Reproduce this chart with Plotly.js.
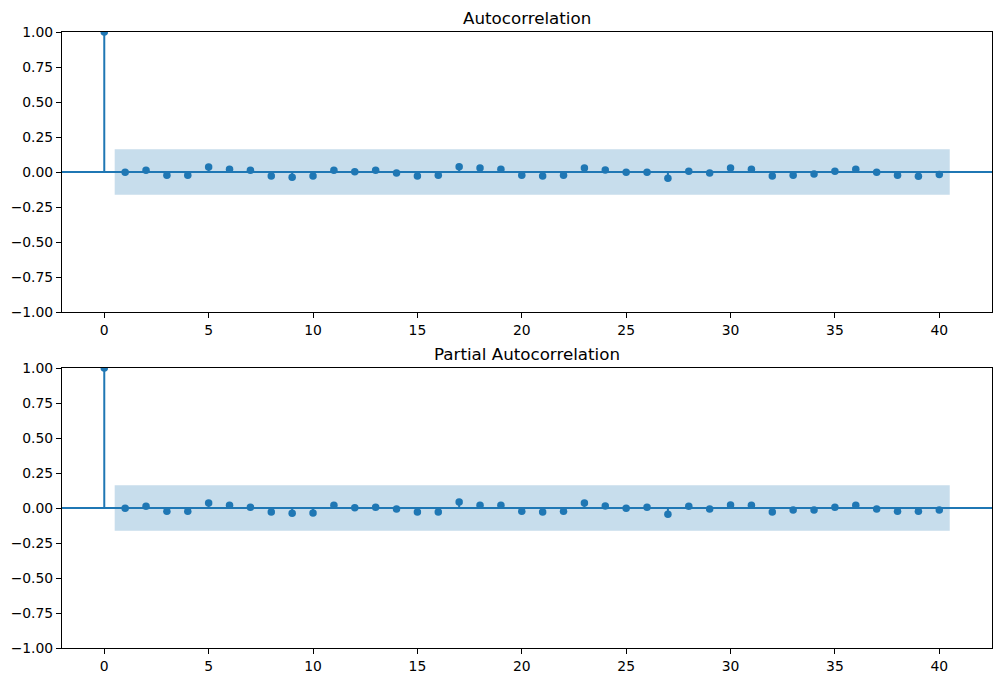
<!DOCTYPE html>
<html>
<head>
<meta charset="utf-8">
<script src="https://cdn.plot.ly/plotly-3.0.1.min.js"></script>
<style>html,body{margin:0;padding:0;background:#fff;}#chart{width:1002px;height:682px;}</style>
</head>
<body>
<div id="chart"></div>
<script>
// ---- data ----
const lags = [0,1,2,3,4,5,6,7,8,9,10,11,12,13,14,15,16,17,18,19,20,21,22,23,24,25,26,27,28,29,30,31,32,33,34,35,36,37,38,39,40];
const acfValues = [1.0,-0.002,0.012,-0.024,-0.024,0.036,0.019,0.012,-0.029,-0.038,-0.029,0.012,0.002,0.012,-0.007,
  -0.029,-0.024,0.038,0.029,0.019,-0.024,-0.029,-0.024,0.029,0.014,-0.002,-0.002,-0.045,0.005,
  -0.007,0.029,0.019,-0.029,-0.024,-0.014,0.005,0.019,-0.002,-0.024,-0.031,-0.017];
const pacfValues = [1.0,-0.002,0.012,-0.024,-0.024,0.036,0.019,0.005,-0.029,-0.038,-0.036,0.019,0.002,0.005,-0.007,
  -0.029,-0.029,0.043,0.019,0.019,-0.024,-0.029,-0.024,0.036,0.014,-0.002,0.005,-0.045,0.012,
  -0.007,0.021,0.019,-0.029,-0.014,-0.014,0.005,0.019,-0.007,-0.024,-0.024,-0.014];
const bandLags = [0.5, 40.5];
const confLimit = 0.163;
const titles = ["Autocorrelation", "Partial Autocorrelation"];
const yTicks = [-1.0,-0.75,-0.5,-0.25,0.0,0.25,0.5,0.75,1.0];
const xTicks = [0,5,10,15,20,25,30,35,40];

const blue = '#1f77b4';
const band = 'rgba(31,119,180,0.25)';

function makeTraces(vals, xa, ya) {
  const bx = [bandLags[0], bandLags[1], bandLags[1], bandLags[0], bandLags[0]];
  const by = [confLimit, confLimit, -confLimit, -confLimit, confLimit];
  const sx = [], sy = [];
  lags.forEach((l, i) => { sx.push(l, l, null); sy.push(0, vals[i], null); });
  return [
    {x: bx, y: by, xaxis: xa, yaxis: ya, type: 'scatter', mode: 'lines', fill: 'toself',
     fillcolor: band, line: {width: 0}, hoverinfo: 'skip', showlegend: false},
    {x: sx, y: sy, xaxis: xa, yaxis: ya, type: 'scatter', mode: 'lines',
     line: {color: blue, width: 2}, showlegend: false},
    {x: lags, y: vals, xaxis: xa, yaxis: ya, type: 'scatter', mode: 'markers',
     marker: {color: blue, size: 7.5}, showlegend: false}
  ];
}

const data = [...makeTraces(acfValues, 'x', 'y'), ...makeTraces(pacfValues, 'x2', 'y2')];

const axFont = {family: 'DejaVu Sans', size: 13.9, color: '#000'};
function xAxis(dom) {
  return {domain: [62/1002, 992/1002], range: [-2.025, 42.525], tickvals: xTicks,
    ticktext: xTicks.map(String), showgrid: false, zeroline: false, showline: true, mirror: true,
    linecolor: '#000', linewidth: 1, ticks: 'outside', ticklen: 5, tickwidth: 1, tickcolor: '#000',
    tickfont: axFont, anchor: dom};
}
function yAxis(dom, anchor) {
  return {domain: dom, range: [-1, 1], tickvals: yTicks, tickformat: '.2f',
    showgrid: false, zeroline: false, showline: true, mirror: true,
    linecolor: '#000', linewidth: 1, ticks: 'outside', ticklen: 5, tickwidth: 1, tickcolor: '#000',
    tickfont: axFont, anchor: anchor};
}

const layout = {
  width: 1002, height: 682,
  margin: {l: 0, r: 0, t: 0, b: 0},
  paper_bgcolor: '#fff', plot_bgcolor: '#fff',
  showlegend: false,
  xaxis: xAxis('y'),
  yaxis: yAxis([(682-312)/682, (682-32)/682], 'x'),
  xaxis2: xAxis('y2'),
  yaxis2: yAxis([(682-648)/682, (682-368)/682], 'x2'),
  shapes: [
    {type: 'line', xref: 'x domain', yref: 'y', x0: 0, x1: 1, y0: 0, y1: 0, line: {color: blue, width: 2}},
    {type: 'line', xref: 'x2 domain', yref: 'y2', x0: 0, x1: 1, y0: 0, y1: 0, line: {color: blue, width: 2}}
  ],
  annotations: [
    {text: titles[0], xref: 'paper', yref: 'paper', x: 527/1002, y: (682-30)/682, xanchor: 'center', yanchor: 'bottom',
     showarrow: false, font: {family: 'DejaVu Sans', size: 16.7, color: '#000'}},
    {text: titles[1], xref: 'paper', yref: 'paper', x: 527/1002, y: (682-366)/682, xanchor: 'center', yanchor: 'bottom',
     showarrow: false, font: {family: 'DejaVu Sans', size: 16.7, color: '#000'}}
  ]
};

Plotly.newPlot('chart', data, layout, {displayModeBar: false, staticPlot: true});
</script>
</body>
</html>
